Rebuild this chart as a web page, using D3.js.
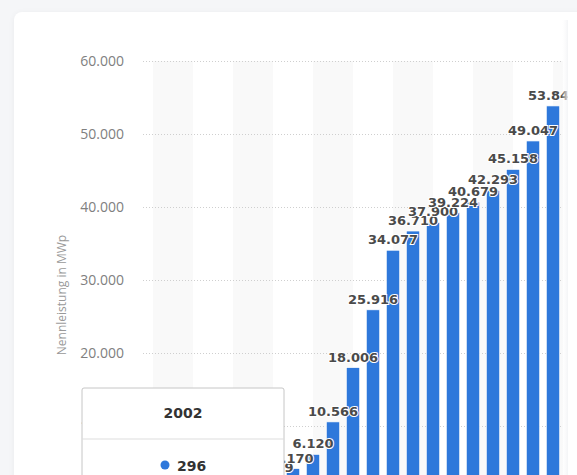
<!DOCTYPE html>
<html>
<head>
<meta charset="utf-8">
<script src="https://cdn.jsdelivr.net/npm/d3@7"></script>
<style>
  html, body { margin: 0; padding: 0; width: 577px; height: 475px; overflow: hidden; background: #f5f6f8; font-family: "Open Sans", sans-serif; }
  .card { position: absolute; left: 14px; top: 12px; width: 620px; height: 520px; background: #fff; border-radius: 8px; box-shadow: 0 1px 6px rgba(0,0,0,0.05); }
  svg { position: absolute; left: 0; top: 0; }
</style>
</head>
<body>
<div class="card"></div>
<svg id="chart"></svg>
<script>
// years and installed capacity (MWp)
const years = ["2000", "2001", "2002", "2003", "2004", "2005", "2006", "2007", "2008", "2009", "2010",
               "2011", "2012", "2013", "2014", "2015", "2016", "2017", "2018", "2019", "2020"];
const capacity = [114, 176, 296, 435, 1105, 2056, 2899, 4170, 6120, 10566, 18006,
                  25916, 34077, 36710, 37900, 39224, 40679, 42293, 45158, 49047, 53848];
const yTicks = [0, 10000, 20000, 30000, 40000, 50000, 60000];
const hoverYear = "2002";

const fmt = d3.formatLocale({ decimal: ",", thousands: ".", grouping: [3] }).format(",d");

const svg = d3.select("#chart").attr("width", 568).attr("height", 475);
const margin = { left: 143, top: 61 };
const plotRight = 563;

const x = d3.scaleBand().domain(years).range([margin.left, plotRight]).paddingInner(0.33).paddingOuter(0.165);
const y = d3.scaleLinear().domain([0, 60000]).range([499, margin.top]);
const step = x.step();
const center = d => x(d) + x.bandwidth() / 2;

// alternating bands between every second year
const bands = years.filter((d, i) => i % 4 === 0);
svg.append("g").selectAll("rect").data(bands).join("rect")
    .attr("x", d => center(d))
    .attr("width", d => Math.min(step * 2, plotRight - center(d)))
    .attr("y", y(60000))
    .attr("height", y(0) - y(60000))
    .attr("fill", "#f9f9f9");

// grid + y axis
const yAxis = svg.append("g")
    .attr("transform", `translate(${margin.left},0)`)
    .call(d3.axisLeft(y).tickValues(yTicks).tickSize(-(plotRight - margin.left)).tickPadding(19)
        .tickFormat(d => d3.format(",.3f")(d / 1000).replace(/,/g, "")));
yAxis.select(".domain").remove();
yAxis.selectAll(".tick line").attr("stroke", "#cfcfcf").attr("stroke-dasharray", "1,2");
yAxis.selectAll(".tick text").attr("fill", "#808080").style("font-size", "14px").style("font-family", "'Open Sans', sans-serif");

svg.append("text")
    .attr("transform", "translate(66,295) rotate(-90)")
    .attr("text-anchor", "middle")
    .attr("fill", "#999")
    .style("font-size", "12px")
    .text("Nennleistung in MWp");

// bars
svg.append("g").selectAll("rect").data(years).join("rect")
    .attr("x", d => x(d))
    .attr("width", x.bandwidth())
    .attr("y", (d, i) => y(capacity[i]))
    .attr("height", (d, i) => y(0) - y(capacity[i]))
    .attr("fill", "#2e78db")
    .attr("stroke", "#ffffff")
    .attr("stroke-width", 0.7);

// data labels
svg.append("g").selectAll("text").data(years).join("text")
    .attr("x", d => center(d))
    .attr("y", (d, i) => y(capacity[i]) - 6)
    .attr("text-anchor", "middle")
    .attr("fill", "#4a4a4a")
    .attr("stroke", "#fff")
    .attr("stroke-width", 2)
    .attr("paint-order", "stroke")
    .style("font-family", "'DejaVu Sans', sans-serif")
    .style("font-size", "13px")
    .style("font-weight", "bold")
    .text((d, i) => fmt(capacity[i]));

// tooltip
const hi = years.indexOf(hoverYear);
const tip = svg.append("g").attr("transform", "translate(82,388)")
    .style("font-family", "'DejaVu Sans', sans-serif");
tip.append("rect").attr("width", 202).attr("height", 120).attr("rx", 2)
    .attr("fill", "#fff").attr("stroke", "#c6c6c6");
tip.append("text").attr("x", 101).attr("y", 30).attr("text-anchor", "middle")
    .attr("fill", "#333").style("font-size", "14px").style("font-weight", "bold").text(hoverYear);
tip.append("line").attr("x1", 0).attr("x2", 202).attr("y1", 51).attr("y2", 51).attr("stroke", "#ddd");
tip.append("circle").attr("cx", 83).attr("cy", 77).attr("r", 4.5).attr("fill", "#2e78db");
tip.append("text").attr("x", 95).attr("y", 83).attr("fill", "#333")
    .style("font-size", "14px").style("font-weight", "bold").text(fmt(capacity[hi]));

// fade at right edge
const grad = svg.append("defs").append("linearGradient").attr("id", "fade");
grad.append("stop").attr("offset", "0").attr("stop-color", "#fff").attr("stop-opacity", 0);
grad.append("stop").attr("offset", "1").attr("stop-color", "#f2f3f5").attr("stop-opacity", 0.9);
svg.append("rect").attr("x", 561).attr("y", 20).attr("width", 7).attr("height", 455).attr("fill", "url(#fade)");
</script>
</body>
</html>
